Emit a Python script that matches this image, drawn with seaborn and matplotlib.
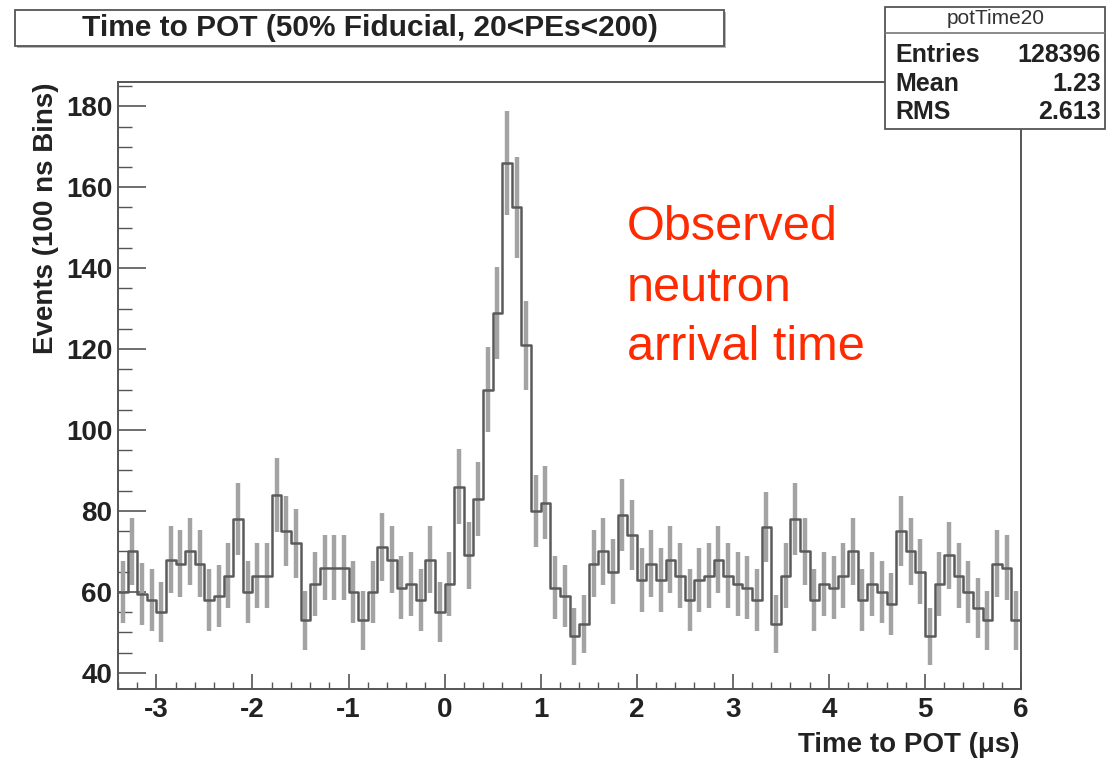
import numpy as np
import pandas as pd
import matplotlib
matplotlib.use("Agg")
import matplotlib.pyplot as plt
import seaborn as sns
from matplotlib.patches import Rectangle
from matplotlib.lines import Line2D
from matplotlib.ticker import MultipleLocator

# ---------------- data ----------------
bin_low = -3.4
bin_width = 0.1
counts = [60, 70, 59.5, 58, 55, 68, 67, 70, 67, 58,
          59, 64, 78, 60, 64, 64, 84, 75, 72, 53,
          62, 66, 66, 66, 60, 53, 60, 71, 68, 61,
          62, 58, 68, 55, 62, 86, 69, 83, 110, 129,
          166, 155, 121, 80, 82, 61, 59, 49, 52, 67,
          70, 65, 79, 74, 63, 67, 63, 68, 64, 58,
          63, 64, 68, 64, 62, 61, 58, 76, 52, 64,
          78, 70, 58, 62, 61, 64, 70, 58, 62, 60,
          57, 75, 70, 65, 49, 62, 69, 64, 60, 56,
          53, 67, 66, 53]
x_ticks = [-3, -2, -1, 0, 1, 2, 3, 4, 5, 6]
y_ticks = [40, 60, 80, 100, 120, 140, 160, 180]
title = "Time to POT (50% Fiducial, 20<PEs<200)"
x_label = "Time to POT (\u03bcs)"
y_label = "Events (100 ns Bins)"
stats_name = "potTime20"
stats_labels = ["Entries", "Mean", "RMS"]
stats_values = ["128396", "1.23", "2.613"]
annotation_lines = ["Observed", "neutron", "arrival time"]

# ---------------- style ----------------
sns.set_style("ticks")
plt.rcParams['font.family'] = ['Liberation Sans', 'DejaVu Sans']
plt.rcParams['axes.unicode_minus'] = False

W, H = 1111, 763
def fx(x):
    return x / W
def fy(y):
    return 1 - y / H

n_bins = len(counts)
edges = bin_low + bin_width * np.arange(n_bins + 1)
centers = edges[:-1] + bin_width / 2
df = pd.DataFrame({"t": centers, "n": counts})

fig = plt.figure(figsize=(W / 100, H / 100), dpi=100)
fig.patch.set_facecolor("white")
ax = fig.add_axes([fx(118), fy(689), fx(1021) - fx(118), fy(82) - fy(689)])
ax.set_facecolor("white")

ax.errorbar(df["t"], df["n"], yerr=np.sqrt(df["n"]), fmt="none",
            ecolor="#a3a3a3", elinewidth=3.2, capsize=0, zorder=2)
sns.histplot(data=df, x="t", weights="n", bins=n_bins,
             binrange=(float(edges[0]), float(edges[-1])), element="step",
             fill=False, color="#5a5a5a", linewidth=1.8, ax=ax, zorder=3)

ax.set_xlim(-3.4, 6)
ax.set_ylim(36, 186)
ax.set_xticks(x_ticks)
ax.set_yticks(y_ticks)
ax.xaxis.set_minor_locator(MultipleLocator(0.2))
ax.yaxis.set_minor_locator(MultipleLocator(5))
ax.tick_params(axis="both", which="both", direction="in", color="#555555",
               top=False, right=False)
ax.tick_params(axis="x", which="major", length=11, width=1.2, pad=6, labelsize=20)
ax.tick_params(axis="x", which="minor", length=5, width=1.0)
ax.tick_params(axis="y", which="major", length=20, width=1.2, pad=4, labelsize=20)
ax.tick_params(axis="y", which="minor", length=10, width=1.0)
for lab in ax.get_xticklabels() + ax.get_yticklabels():
    lab.set_fontweight("bold")
    lab.set_color("#222222")
ax.set_xlabel("")
ax.set_ylabel("")
for sp in ax.spines.values():
    sp.set_visible(True)
    sp.set_color("#555555")
    sp.set_linewidth(1.4)

# axis titles
fig.text(fx(1020), fy(745), x_label, ha="right", va="center",
         fontsize=20, fontweight="bold", color="#222222")
fig.text(fx(46), fy(82), y_label, ha="center", va="top", rotation=90,
         fontsize=20, fontweight="bold", color="#222222")

# title box
fig.add_artist(Rectangle((fx(17), fy(48)), fx(726) - fx(17), fy(12) - fy(48),
                         transform=fig.transFigure, facecolor="#b8b8b8",
                         edgecolor="none", zorder=9))
fig.add_artist(Rectangle((fx(15), fy(46)), fx(724) - fx(15), fy(10) - fy(46),
                         transform=fig.transFigure, facecolor="white",
                         edgecolor="#555555", linewidth=1.3, zorder=10))
fig.text(fx(370), fy(28), title, ha="center", va="center", fontsize=21.5,
         fontweight="bold", color="#222222", zorder=11)

# stats box
fig.add_artist(Rectangle((fx(885), fy(129)), fx(1105) - fx(885), fy(7) - fy(129),
                         transform=fig.transFigure, facecolor="white",
                         edgecolor="#555555", linewidth=1.3, zorder=10))
fig.add_artist(Line2D([fx(885), fx(1105)], [fy(33), fy(33)],
                      transform=fig.transFigure, color="#777777",
                      linewidth=1.2, zorder=11))
fig.text(fx(996), fy(19), stats_name, ha="center", va="center", fontsize=15,
         color="#333333", zorder=12)
for lab, val, yy in zip(stats_labels, stats_values, [55, 84, 112]):
    fig.text(fx(895), fy(yy), lab, ha="left", va="center", fontsize=18,
             fontweight="bold", color="#222222", zorder=12)
    fig.text(fx(1101), fy(yy), val, ha="right", va="center", fontsize=18,
             fontweight="bold", color="#222222", zorder=12)

# red annotation
for line, yb in zip(annotation_lines, [240, 301, 360]):
    fig.text(fx(627), fy(yb), line, ha="left", va="baseline", fontsize=35,
             color="#ff2a00")

fig.savefig("out.png", dpi=100, facecolor="white")
